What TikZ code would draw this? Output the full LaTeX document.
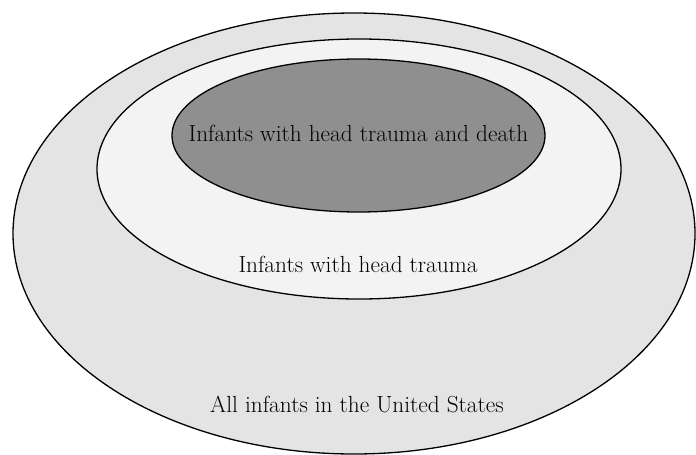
\documentclass[tikz,border=0pt]{standalone}
\usepackage{tikz}
\usepackage{xcolor}
\usetikzlibrary{positioning, calc, shapes.geometric}

\begin{document}
\begin{tikzpicture}[
  x=1pt, y=-1pt,
  font=\rmfamily\fontsize{23.3}{26}\selectfont,
  setshape/.style={draw=black, line width=1.3pt, ellipse, inner sep=0pt},
  setlabel/.style={inner sep=1pt, text=black},
]

\definecolor{cOuter}{HTML}{E4E4E4}
\definecolor{cMid}  {HTML}{F3F3F3}
\definecolor{cInner}{HTML}{8F8F8F}

\useasboundingbox (0,0) rectangle (696,455);

% =====================================================================
% Nested sets (outer -> inner)
% =====================================================================
\pgfmathsetmacro{\oRx}{341}
\pgfmathsetmacro{\oRy}{220.5}
\pgfmathsetmacro{\mRx}{262}
\pgfmathsetmacro{\mRy}{130}
\pgfmathsetmacro{\iRx}{186.5}
\pgfmathsetmacro{\iRy}{76.5}

\node[setshape, fill=cOuter,
      minimum width=2*\oRx pt, minimum height=2*\oRy pt]
      (allInfants) at (354, 233.5) {};
\node[setshape, fill=cMid,
      minimum width=2*\mRx pt, minimum height=2*\mRy pt]
      (headTrauma) at (359, 169) {};
\node[setshape, fill=cInner,
      minimum width=2*\iRx pt, minimum height=2*\iRy pt]
      (traumaDeath) at (358.5, 135.5) {};

% =====================================================================
% Labels
% =====================================================================
\node[setlabel] (lblDeath)  at (traumaDeath.center |- 0,133)
      {Infants with head trauma and death};
\node[setlabel] (lblTrauma) at (358, 264) {Infants with head trauma};
\node[setlabel] (lblAll)    at (357, 404) {All infants in the United States};

\end{tikzpicture}
\end{document}
